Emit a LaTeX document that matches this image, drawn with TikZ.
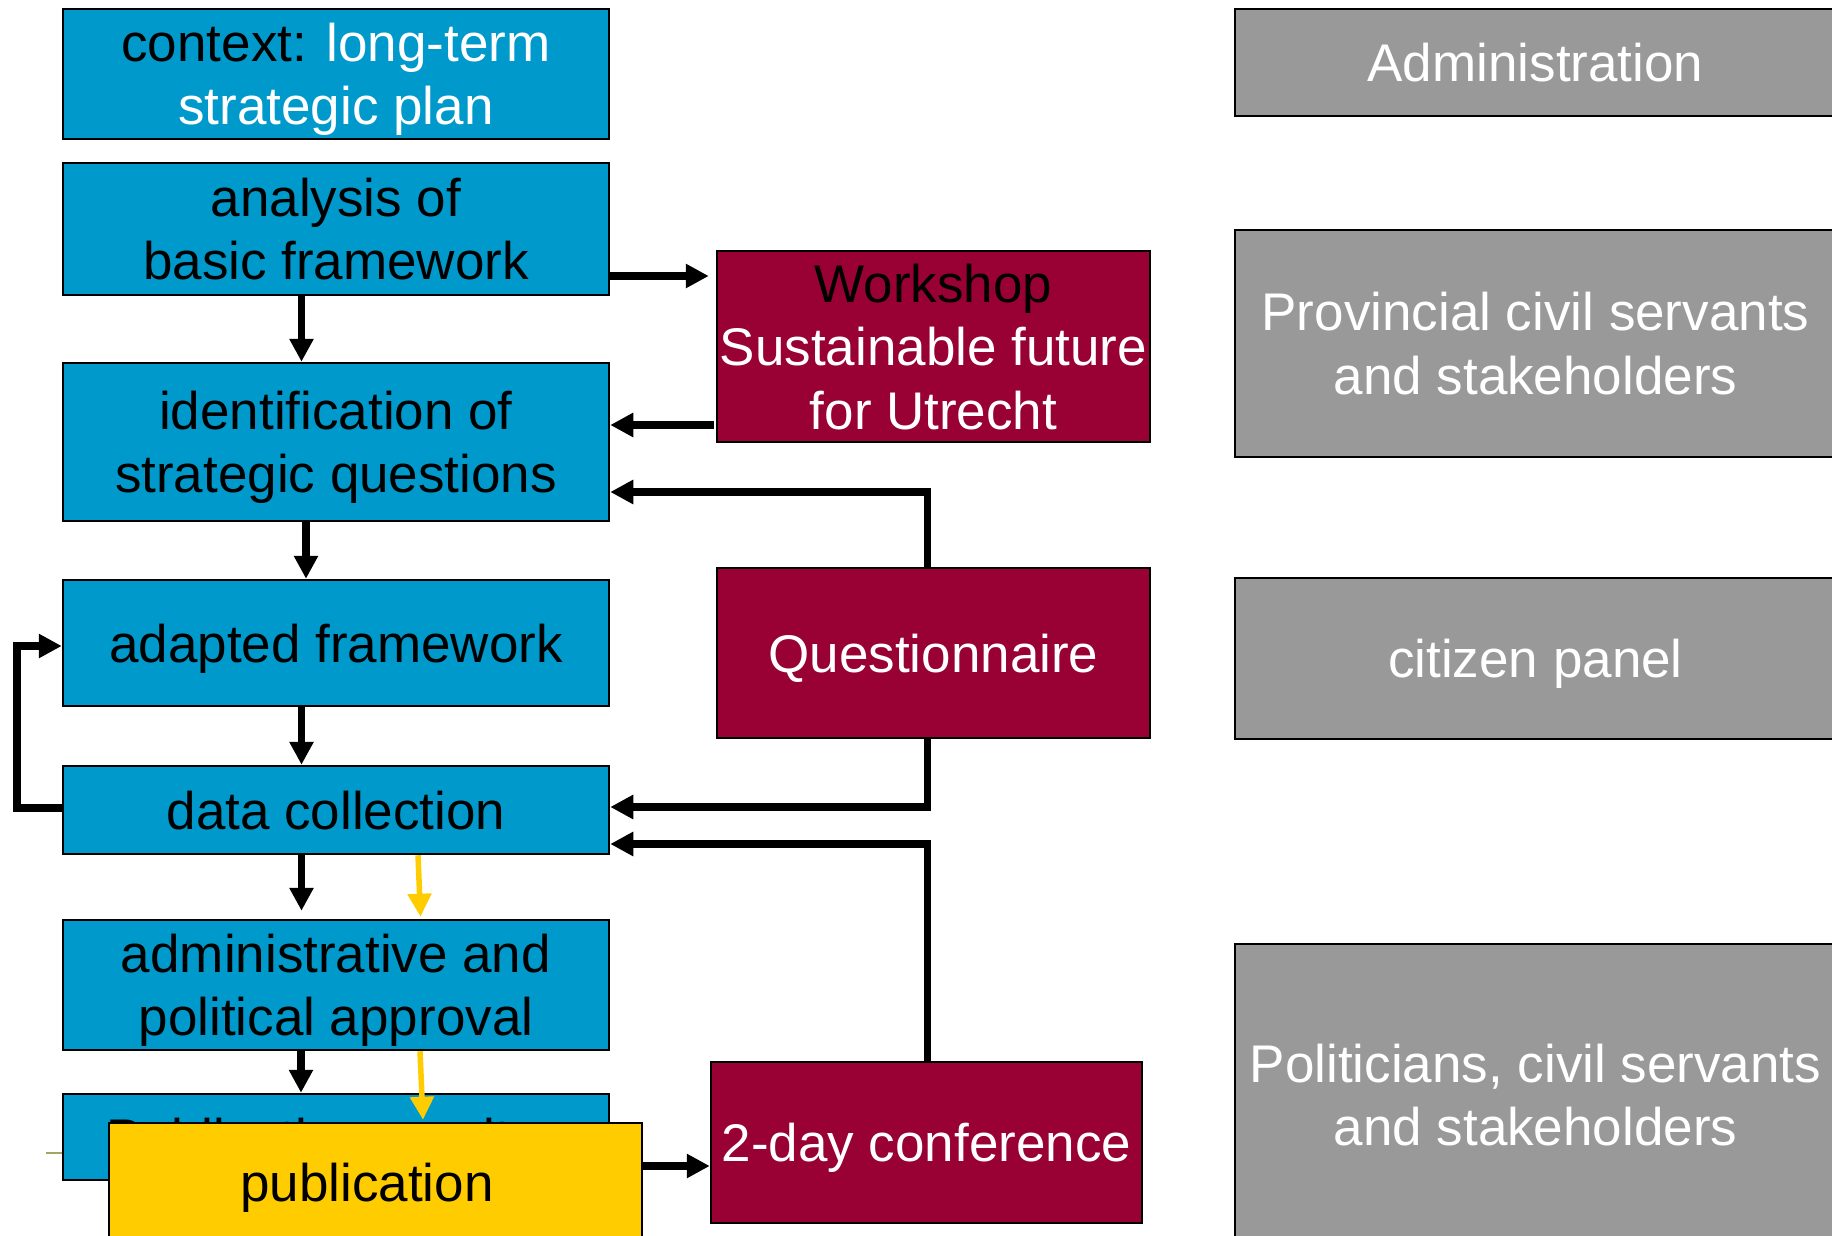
\documentclass[tikz,border=0pt]{standalone}
\usepackage{fontspec}
\setmainfont{Liberation Sans}
\usetikzlibrary{arrows.meta}
\definecolor{boxblue}{RGB}{0,153,204}
\definecolor{boxred}{RGB}{153,0,51}
\definecolor{boxgray}{RGB}{153,153,153}
\definecolor{boxyellow}{RGB}{255,204,0}
\definecolor{olivetrace}{RGB}{165,165,95}
\newcommand\bs{\rule[-12pt]{0pt}{62pt}}
\begin{document}
\begin{tikzpicture}[x=1pt,y=-1pt,
  box/.style={draw=black, line width=2.5pt, inner sep=0pt, align=center,
    font=\fontsize{53}{63.5}\selectfont},
  bluebox/.style={box, fill=boxblue, text=black, minimum width=546pt},
  redbox/.style={box, fill=boxred, text=white},
  graybox/.style={box, fill=boxgray, text=white, minimum width=601pt},
  yellowbox/.style={box, fill=boxyellow, text=black},
  flow/.style={draw=black, line width=7.5pt, -{Triangle[length=23pt,width=23pt]}},
  yflow/.style={draw=boxyellow, line width=5.5pt, -{Triangle[length=23pt,width=23pt]}},
  trace/.style={draw=olivetrace, line width=1.5pt}]
\useasboundingbox (0,0) rectangle (1832,1236);
\clip (0,0) rectangle (1832,1236);

% left column
\node[bluebox, minimum height=130pt] (ctx) at (336,74)
  {\bs context: \textcolor{white}{long-term}\\\bs\textcolor{white}{strategic plan}};
\node[bluebox, minimum height=132pt] (ana) at (336,229)
  {\bs analysis of\\\bs basic framework};
\node[bluebox, minimum height=158pt] (iden) at (336,442)
  {\bs identification of\\\bs strategic questions};
\node[bluebox, minimum height=126pt] (adap) at (336,643)
  {\bs adapted framework};
\node[bluebox, minimum height=88pt] (data) at (336,810)
  {\bs data collection};
\node[bluebox, minimum height=130pt] (admin) at (336,985)
  {\bs administrative and\\\bs political approval};
\node[bluebox, minimum height=86pt] (pubres) at (336,1137)
  {\bs Publication results\hspace*{28pt}};
\node[yellowbox, minimum width=533pt, minimum height=118pt] (pub) at (375.5,1182)
  {\bs publication\hspace*{17pt}};

% middle column
\node[redbox, minimum width=433pt, minimum height=191pt] (ws) at (933.5,346.5)
  {\bs\textcolor{black}{Workshop}\\\bs Sustainable future\\\bs for Utrecht};
\node[redbox, minimum width=433pt, minimum height=170pt] (quest) at (933.5,653)
  {\bs Questionnaire};
\node[redbox, minimum width=431pt, minimum height=161pt] (conf) at (926.5,1142.5)
  {\bs 2-day conference};

% right column
\node[graybox, minimum height=107pt] (adm) at (1535.5,62.5)
  {\bs Administration};
\node[graybox, minimum height=227pt] (prov) at (1535.5,343.5)
  {\bs Provincial civil servants\\\bs and stakeholders};
\node[graybox, minimum height=161pt] (cit) at (1535.5,658.5)
  {\bs citizen panel};
\node[graybox, minimum height=302pt] (pol) at (1535.5,1095)
  {\bs Politicians, civil servants\\\bs and stakeholders};

% connectors
\draw[flow] ([yshift=-47pt]ana.east) -- ([xshift=-7pt,yshift=70.5pt]ws.west);
\draw[flow] ([xshift=-2pt,yshift=-78.5pt]ws.west) -- ([yshift=17pt]iden.east);
\draw[flow] ([xshift=-6pt]quest.north) |- ([yshift=-50pt]iden.east);
\draw[flow] ([xshift=-6pt]quest.south) |- ([yshift=3pt]data.east);
\draw[flow] ([xshift=1pt]conf.north) |- ([yshift=-34pt]data.east);
\draw[flow] ([yshift=16pt]pub.east) -- ([yshift=-23.5pt]conf.west);

\draw[flow] ([xshift=-34.5pt]ana.south) -- ([xshift=-34.5pt]iden.north);
\draw[flow] ([xshift=-30pt]iden.south) -- ([xshift=-30pt]adap.north);
\draw[flow] ([xshift=-34.5pt]adap.south) -- ([xshift=-34.5pt]data.north);
\draw[flow] ([xshift=-34.5pt]data.south) -- ([xshift=-34.5pt,yshift=8pt]admin.north);
\draw[flow] ([xshift=-35pt]admin.south) -- ([xshift=-35pt]pubres.north);
\draw[flow] ([yshift=2pt]data.west) -- ++(-45,0) |- ([yshift=-3pt]adap.west);

\draw[yflow] ([xshift=82pt]data.south) -- ([xshift=84.5pt,yshift=2pt]admin.north);
\draw[yflow] ([xshift=84pt]admin.south) -- ([xshift=47.5pt,yshift=2pt]pub.north);

\coordinate (olv) at (46,1153);
\draw[trace] (olv) -- ([yshift=-16pt]pubres.west);
\end{tikzpicture}
\end{document}
